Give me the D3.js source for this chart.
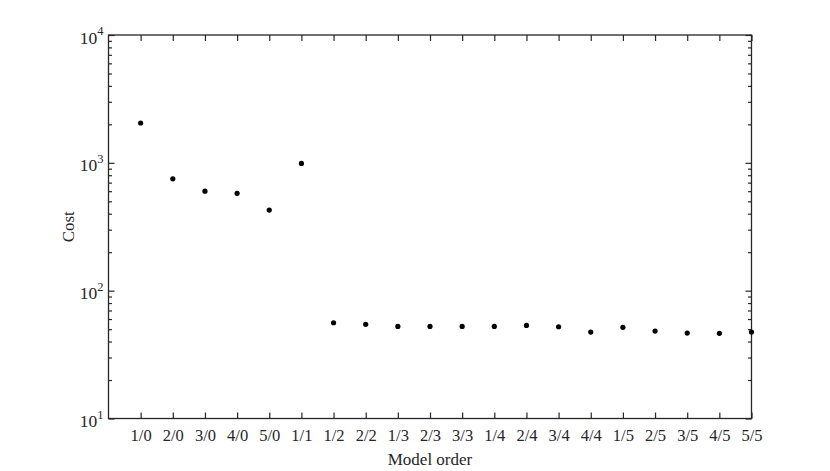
<!DOCTYPE html>
<html><head><meta charset="utf-8">
<script src="https://cdn.jsdelivr.net/npm/d3@7"></script>
<style>body{margin:0;background:#fff}svg{display:block}text{font-family:"Liberation Serif","Times New Roman",serif;fill:#262626}</style>
</head><body><svg id="c" width="830" height="471"></svg>
<script>
const categories = ["1/0","2/0","3/0","4/0","5/0","1/1","1/2","2/2","1/3","2/3","3/3","1/4","2/4","3/4","4/4","1/5","2/5","3/5","4/5","5/5"];
const costs = [2050,750,600,577,427,990,56.1,54.5,52.5,52.5,52.5,52.5,53.5,52.2,47.4,51.7,48.3,46.6,46.4,47.4];
const yTickValues = [10,100,1000,10000];
const yTickExponents = [1,2,3,4];

const svg = d3.select("#c");
const L=108.5,R=751.5,T=35,B=418.5;
const x = d3.scaleLinear().domain([0,categories.length]).range([L,R]);
const y = d3.scaleLog().domain([10,10000]).range([B,T]);
const col="#262626";
const g = svg.append("g");

const minor=[];
for(let d=10; d<10000; d*=10) for(let k=2;k<=9;k++) minor.push(d*k);

const gl = g.append("g").attr("transform",`translate(${L},0)`).call(d3.axisLeft(y).tickValues(yTickValues).tickSize(-6).tickFormat(""));
const gr = g.append("g").attr("transform",`translate(${R},0)`).call(d3.axisRight(y).tickValues(yTickValues).tickSize(-6).tickFormat(""));
const glm = g.append("g").attr("transform",`translate(${L},0)`).call(d3.axisLeft(y).tickValues(minor).tickSize(-3.5).tickFormat(""));
const grm = g.append("g").attr("transform",`translate(${R},0)`).call(d3.axisRight(y).tickValues(minor).tickSize(-3.5).tickFormat(""));
const idx = d3.range(1,categories.length+1);
const gb = g.append("g").attr("transform",`translate(0,${B})`).call(d3.axisBottom(x).tickValues(idx).tickSize(-6).tickPadding(10.5).tickFormat(i=>categories[i-1]));
const gt = g.append("g").attr("transform",`translate(0,${T})`).call(d3.axisTop(x).tickValues(idx).tickSize(-6).tickFormat(""));
[gl,gr,glm,grm,gb,gt].forEach(a=>{a.select(".domain").remove();a.selectAll("line").attr("stroke",col).attr("stroke-width",1.2);});
gb.selectAll("text").attr("font-size",16.5).attr("fill",col).style("font-family",'"Liberation Serif",serif');

g.append("rect").attr("x",L).attr("y",T).attr("width",R-L).attr("height",B-T).attr("fill","none").attr("stroke",col).attr("stroke-width",1.3);

yTickValues.forEach((v,i)=>{
  const t=g.append("text").attr("x",L-5).attr("y",y(v)+8.5).attr("text-anchor","end").attr("font-size",17.5);
  t.append("tspan").text("10");
  t.append("tspan").attr("font-size",12.5).attr("dy",-8.5).text(yTickExponents[i]);
});

g.selectAll("circle.p").data(costs).join("circle").attr("class","p")
 .attr("cx",(d,i)=>x(i+1)).attr("cy",d=>y(d)).attr("r",2.6).attr("fill","#000");

g.append("text").attr("x",(L+R)/2).attr("y",465).attr("text-anchor","middle").attr("font-size",17).text("Model order");
g.append("text").attr("transform",`translate(74,${(T+B)/2}) rotate(-90)`).attr("text-anchor","middle").attr("font-size",17).text("Cost");
</script></body></html>
